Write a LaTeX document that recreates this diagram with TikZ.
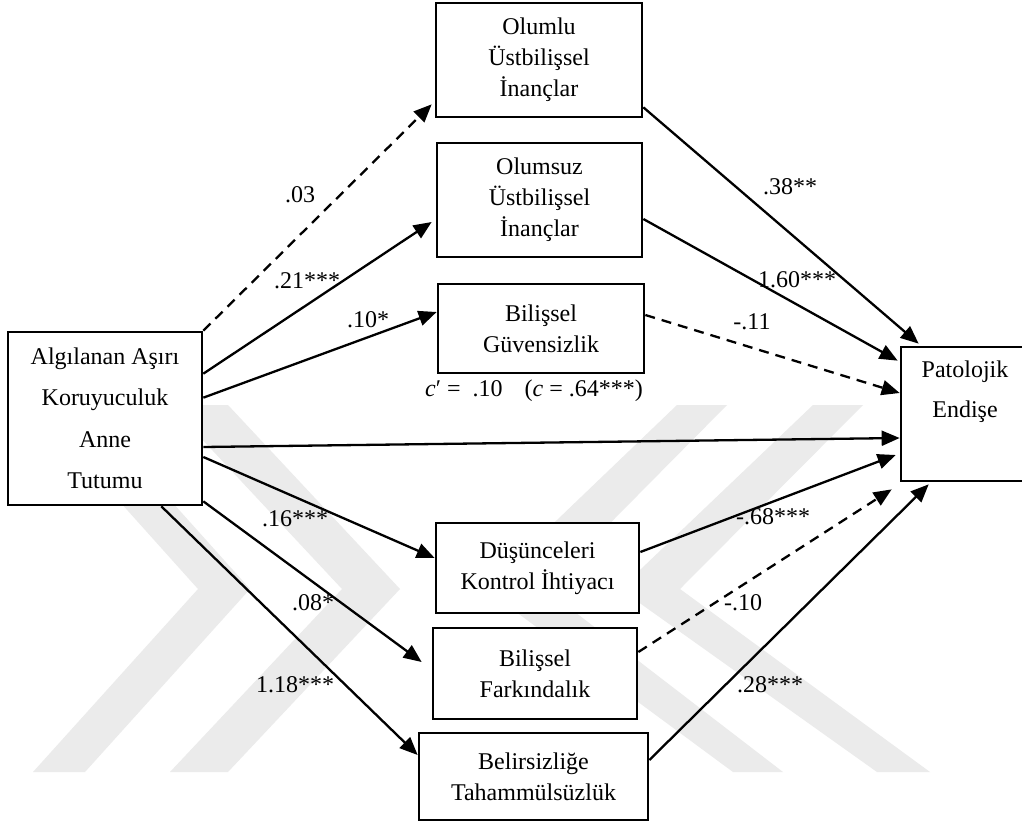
\documentclass[tikz,border=0pt]{standalone}
\usepackage{fontspec}
\setmainfont{Liberation Serif}
\usetikzlibrary{arrows.meta}
\tikzset{
  box/.style={draw=black, line width=2.7pt, fill=white, align=center, inner sep=0pt,
              font=\fontsize{24}{31}\selectfont},
  path/.style={line width=2.3pt, -{Triangle[length=18pt,width=15pt]}},
  weak/.style={path, dash pattern=on 10pt off 7pt},
  coef/.style={font=\fontsize{24}{28}\selectfont, inner sep=0pt},
  mark band/.style={fill=black!8, draw=none},
}
\begin{document}
\begin{tikzpicture}[x=1pt,y=-1pt]
\useasboundingbox (0,0) rectangle (1022,827);
\fill[white] (0,0) rectangle (1022,827);

% faint chevron backdrop
\fill[mark band] (33,405) -- (85,405) -- (250,589) -- (85,772) -- (33,772) -- (198,589) -- cycle;
\fill[mark band] (170,405) -- (228,405) -- (400,589) -- (228,772) -- (170,772) -- (342,589) -- cycle;
\fill[mark band] (677,405) -- (727,405) -- (545,589) -- (783,772) -- (733,772) -- (485,589) -- cycle;
\fill[mark band] (813,405) -- (863,405) -- (680,589) -- (930,772) -- (877,772) -- (620,589) -- cycle;

% predictor
\node[box, minimum width=194pt, minimum height=173pt,
      font=\fontsize{24}{41.5}\selectfont] (A) at (105,418.5)
  {Algılanan Aşırı\\Koruyuculuk\\Anne\\Tutumu};

% mediators
\node[box, minimum width=206pt, minimum height=114pt] (O1) at (539,60)
  {Olumlu\\Üstbilişsel\\İnançlar};
\node[box, minimum width=205pt, minimum height=114pt] (O2) at (539.5,200)
  {Olumsuz\\Üstbilişsel\\İnançlar};
\node[box, minimum width=206pt, minimum height=89pt] (BG) at (541,328.5)
  {Bilişsel\\Güvensizlik};
\node[box, minimum width=203pt, minimum height=90pt] (D) at (537.5,568)
  {Düşünceleri\\Kontrol İhtiyacı};
\node[box, minimum width=204pt, minimum height=91pt] (BF) at (535,673.5)
  {Bilişsel\\Farkındalık};
\node[box, minimum width=229pt, minimum height=87pt] (BT) at (533.5,776.5)
  {Belirsizliğe\\Tahammülsüzlük};

% outcome (runs off the right edge)
\node[box, minimum width=124pt, minimum height=134pt] (P) at (963,414) {};
\node[align=center, inner sep=0pt, font=\fontsize{24}{40}\selectfont]
  (Ptext) at (965,392) {Patolojik\\Endişe};

% a paths
\draw[weak] (A.north east) -- ([xshift=-3pt,yshift=14pt]O1.south west);
\draw[path] ([yshift=-43pt]A.north east) -- ([xshift=-4pt,yshift=-22pt]O2.west);
\draw[path] ([yshift=-67pt]A.north east) -- ([yshift=16.5pt]BG.west);
\draw[path] ([yshift=-38.5pt]A.east) -- ([yshift=10pt]D.west);
\draw[path] ([yshift=5pt]A.south east) -- ([xshift=-10pt,yshift=11.5pt]BF.west);
\draw[path] ([xshift=-42pt]A.south east) -- ([yshift=21.5pt]BT.west);

% direct path
\draw[path] ([yshift=-28.5pt]A.east) -- ([yshift=-24pt]P.west);

% b paths
\draw[path] ([yshift=11pt]O1.south east) -- ([xshift=19pt,yshift=2pt]P.north west);
\draw[path] ([yshift=-19pt]O2.east) -- ([xshift=-2pt,yshift=-15pt]P.north west);
\draw[weak] ([yshift=13.5pt]BG.east) -- ([yshift=21pt]P.west);
\draw[path] ([yshift=16pt]D.east) -- ([xshift=-4pt,yshift=-41pt]P.west);
\draw[weak] ([yshift=21.5pt]BF.east) -- ([xshift=-8pt,yshift=-7pt]P.south west);
\draw[path] ([yshift=16.5pt]BT.east) -- ([xshift=29pt,yshift=-2pt]P.south west);

% coefficients
\node[coef] (l1) at (300,195) {.03};
\node[coef] (l2) at (307,281) {.21***};
\node[coef] (l3) at (368,320) {.10*};
\node[coef] (l4) at (295,519) {.16***};
\node[coef] (l5) at (313,603) {.08*};
\node[coef] (l6) at (295,685) {1.18***};
\node[coef] (l7) at (790,187) {.38**};
\node[coef] (l8) at (797,280) {1.60***};
\node[coef] (l9) at (752,322) {-.11};
\node[coef] (l10) at (773,517) {-.68***};
\node[coef] (l11) at (743,603) {-.10};
\node[coef] (l12) at (770,685) {.28***};
\node[coef, anchor=west] (cc) at (425,391)
  {\textit{c}\char"2032\ =\ \ .10\hspace{22pt}(\textit{c} = .64***)};
\end{tikzpicture}
\end{document}
